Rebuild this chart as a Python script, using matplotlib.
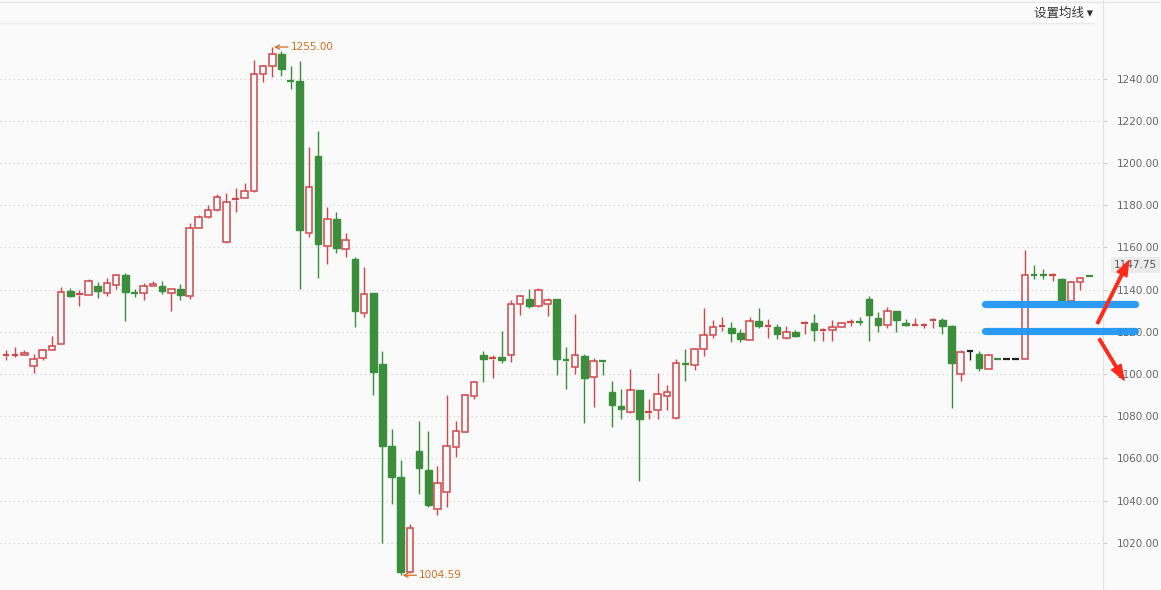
import matplotlib
matplotlib.use("Agg")
import matplotlib.pyplot as plt
from matplotlib.patches import Rectangle, FancyArrowPatch
from matplotlib.lines import Line2D
import matplotlib.transforms as mtransforms

# daily candles (open, high, low, close)
opens = [1108.6, 1108.9, 1109.1, 1103.9, 1107.5, 1111.5, 1114.3, 1139.5, 1137.6, 1137.5,
         1141.7, 1138.4, 1142.2, 1147.1, 1138.6, 1138.4, 1141.7, 1141.9, 1138.4, 1140.5,
         1137.2, 1169.2, 1174.2, 1177.7, 1162.5, 1182.6, 1183.5, 1186.8, 1242.2, 1246.0,
         1251.7, 1239.3, 1238.8, 1167.0, 1203.4, 1160.6, 1173.3, 1159.2, 1154.5, 1129.0,
         1138.4, 1104.9, 1065.8, 1051.0, 1005.9, 1063.5, 1054.6, 1035.8, 1043.9, 1065.5,
         1072.5, 1089.8, 1108.9, 1107.3, 1108.0, 1108.8, 1133.0, 1135.4, 1132.1, 1133.4,
         1135.4, 1106.6, 1103.1, 1108.3, 1098.4, 1106.2, 1091.7, 1084.6, 1081.8, 1092.2,
         1081.7, 1082.9, 1089.8, 1079.1, 1105.1, 1104.1, 1111.9, 1118.6, 1122.4, 1121.9,
         1119.5, 1116.2, 1125.2, 1122.5, 1122.4, 1117.1, 1120.0, 1123.6, 1124.3, 1120.5,
         1121.0, 1122.4, 1124.6, 1125.0, 1135.4, 1126.7, 1123.0, 1129.7, 1124.4, 1122.9,
         1123.0, 1125.2, 1125.6, 1122.9, 1100.0, 1110.8, 1109.4, 1102.6, 1107.4, 1107.0,
         1107.0, 1107.0, 1147.3, 1147.3, 1146.8, 1145.2, 1134.6, 1143.8, 1146.6]
highs = [1111.2, 1113.0, 1111.2, 1109.3, 1112.0, 1118.1, 1141.4, 1140.8, 1139.9, 1145.2,
         1143.6, 1145.5, 1147.2, 1147.9, 1140.3, 1143.2, 1144.3, 1144.3, 1140.5, 1142.8,
         1171.5, 1175.5, 1180.1, 1185.2, 1186.0, 1188.2, 1190.7, 1248.7, 1246.3, 1255.0,
         1252.9, 1246.0, 1248.3, 1207.5, 1215.2, 1179.4, 1177.0, 1166.8, 1155.6, 1150.5,
         1138.6, 1110.7, 1073.8, 1059.1, 1028.8, 1077.7, 1072.9, 1056.2, 1089.9, 1077.7,
         1090.7, 1096.6, 1110.8, 1108.9, 1120.3, 1135.0, 1137.4, 1140.5, 1140.8, 1136.0,
         1135.6, 1112.6, 1128.6, 1109.4, 1107.6, 1106.5, 1096.6, 1092.8, 1102.3, 1092.4,
         1088.1, 1100.7, 1094.6, 1106.9, 1111.7, 1112.1, 1131.1, 1125.4, 1127.1, 1124.8,
         1121.4, 1127.1, 1131.1, 1126.2, 1123.8, 1122.9, 1121.0, 1125.2, 1128.3, 1121.7,
         1125.7, 1124.6, 1126.2, 1127.1, 1137.2, 1129.5, 1131.6, 1129.9, 1126.3, 1126.7,
         1124.3, 1126.5, 1126.5, 1123.1, 1111.3, 1111.5, 1110.8, 1109.7, 1107.4, 1107.0,
         1107.0, 1158.7, 1151.5, 1149.9, 1148.0, 1145.4, 1144.0, 1145.9, 1146.9]
lows = [1106.8, 1108.0, 1108.8, 1100.4, 1106.8, 1111.3, 1114.0, 1136.5, 1132.1, 1137.3,
        1136.1, 1137.0, 1140.1, 1125.0, 1136.4, 1134.9, 1141.5, 1137.8, 1129.7, 1135.3,
        1135.6, 1169.0, 1174.0, 1177.5, 1162.3, 1176.9, 1183.3, 1186.5, 1238.4, 1240.6,
        1241.5, 1235.2, 1140.3, 1165.0, 1145.3, 1152.2, 1157.4, 1155.3, 1122.2, 1126.9,
        1089.9, 1020.0, 1038.2, 1004.59, 1005.5, 1043.1, 1037.0, 1033.0, 1037.1, 1060.7,
        1072.3, 1088.2, 1096.3, 1098.2, 1105.0, 1105.5, 1128.2, 1131.3, 1131.9, 1127.5,
        1099.6, 1093.1, 1100.0, 1076.9, 1084.4, 1099.6, 1075.0, 1078.5, 1081.6, 1049.1,
        1078.5, 1078.5, 1082.9, 1078.9, 1096.5, 1102.0, 1108.4, 1117.0, 1120.6, 1115.4,
        1115.0, 1116.0, 1121.9, 1117.2, 1116.7, 1116.5, 1117.6, 1119.0, 1115.5, 1115.5,
        1115.5, 1122.2, 1122.9, 1123.3, 1115.5, 1120.0, 1121.7, 1120.0, 1122.7, 1122.7,
        1121.9, 1121.7, 1118.9, 1084.0, 1096.5, 1106.7, 1101.4, 1102.4, 1107.2, 1107.0,
        1107.0, 1107.0, 1145.2, 1145.2, 1144.1, 1134.7, 1134.0, 1139.7, 1146.0]
closes = [1109.0, 1109.3, 1110.1, 1107.2, 1111.5, 1113.4, 1138.9, 1136.8, 1138.0, 1144.1,
          1139.4, 1143.2, 1146.9, 1138.7, 1138.2, 1141.7, 1142.8, 1139.2, 1140.3, 1137.3,
          1169.2, 1174.5, 1177.7, 1183.9, 1181.4, 1183.0, 1186.8, 1242.4, 1246.0, 1251.7,
          1244.4, 1238.9, 1168.1, 1188.5, 1161.4, 1173.3, 1159.7, 1163.5, 1129.7, 1138.0,
          1100.9, 1066.0, 1051.3, 1006.3, 1026.8, 1055.2, 1037.7, 1048.1, 1065.8, 1072.9,
          1089.9, 1096.0, 1107.0, 1107.9, 1106.7, 1133.0, 1137.2, 1132.2, 1140.0, 1135.3,
          1107.2, 1106.2, 1108.8, 1098.2, 1106.0, 1105.8, 1085.4, 1083.2, 1092.2, 1078.5,
          1082.1, 1090.3, 1091.3, 1105.0, 1104.7, 1111.9, 1118.6, 1122.4, 1122.9, 1119.3,
          1116.7, 1125.2, 1122.7, 1122.9, 1119.0, 1119.8, 1117.9, 1124.3, 1120.8, 1121.1,
          1122.4, 1124.3, 1125.0, 1124.6, 1128.1, 1123.4, 1129.7, 1125.4, 1123.2, 1123.5,
          1123.4, 1125.6, 1122.9, 1105.0, 1110.3, 1110.8, 1102.9, 1108.8, 1107.2, 1107.0,
          1107.0, 1147.1, 1146.8, 1146.8, 1147.2, 1134.9, 1143.8, 1145.7, 1146.2]

y_ticks = [1020, 1040, 1060, 1080, 1100, 1120, 1140, 1160, 1180, 1200, 1220, 1240]
max_price = 1255.00
min_price = 1004.59
last_price = 1147.75
# levels drawn by hand on the chart
blue_levels = [1133.0, 1120.2]
menu_text = "设置均线 ▾"

up_color = "#d0464a"
down_color = "#3a8e3c"
flat_color = "#222222"
label_color = "#d07020"
bg = "#fafafa"

fig = plt.figure(figsize=(11.61, 5.90), dpi=100, facecolor=bg)
ax = fig.add_axes([0, 0, 1103.3 / 1161, 1])
ax.set_facecolor(bg)

n = len(opens)
w = 0.72
for i in range(n):
    o, h, l, c = opens[i], highs[i], lows[i], closes[i]
    if c > o:
        col = up_color
    elif c < o:
        col = down_color
    else:
        col = flat_color
    top = max(o, c)
    bot = min(o, c)
    if h > top:
        ax.plot([i, i], [top, h], color=col, lw=1.0, solid_capstyle="butt")
    if l < bot:
        ax.plot([i, i], [l, bot], color=col, lw=1.0, solid_capstyle="butt")
    if top - bot < 0.8:
        ax.plot([i - w / 2, i + w / 2], [(o + c) / 2] * 2, color=col, lw=1.6,
                solid_capstyle="butt")
    elif c > o:
        ax.add_patch(Rectangle((i - w / 2, bot), w, top - bot, facecolor=bg,
                               edgecolor=col, lw=1.1))
    else:
        ax.add_patch(Rectangle((i - w / 2, bot), w, top - bot, facecolor=col,
                               edgecolor=col, lw=1.0))

ax.set_xlim(-6 / 9.18, (1103.3 - 6) / 9.18)
ax.set_ylim(997.6, 1277.3)

# grid and right axis
for yv in y_ticks:
    ax.axhline(yv, color="#cccccc", lw=0.8, ls=(0, (1, 3)), zorder=0)
ax.yaxis.tick_right()
ax.set_yticks(y_ticks)
ax.set_yticklabels(["%.2f" % v for v in y_ticks])
ax.tick_params(axis="y", length=3, color="#cccccc", labelcolor="#666666",
               labelsize=7.5, pad=7)
ax.set_xticks([])
for s in ["left", "top", "bottom"]:
    ax.spines[s].set_visible(False)
ax.spines["right"].set_color("#e2e2e2")

# high / low markers
imax = highs.index(max(highs))
imin = lows.index(min(lows))
ax.annotate("%.2f" % max_price, xy=(imax + 0.2, max_price), xytext=(12, 0),
            textcoords="offset points", va="center", ha="left", color=label_color,
            fontsize=7.5, arrowprops=dict(arrowstyle="->", color=label_color, lw=0.9,
                                          shrinkA=0, shrinkB=0))
ax.annotate("%.2f" % min_price, xy=(imin + 0.2, min_price), xytext=(12, 0),
            textcoords="offset points", va="center", ha="left", color=label_color,
            fontsize=7.5, arrowprops=dict(arrowstyle="->", color=label_color, lw=0.9,
                                          shrinkA=0, shrinkB=0))

# last price tag on the axis
trans = mtransforms.blended_transform_factory(ax.transAxes, ax.transData)
ax.text(1.0095, last_price + 3.9, "%.2f" % last_price, transform=trans, ha="left",
        va="center", fontsize=7.5, color="#555555", clip_on=False,
        bbox=dict(boxstyle="square,pad=0.25", facecolor="#ebebeb", edgecolor="none"))

# hand drawn blue lines and red arrows
for yv in blue_levels:
    ax.plot([106.6, 123.0], [yv, yv], color="#2196f3", lw=5.2, solid_capstyle="round",
            clip_on=False, zorder=5, alpha=0.95)
arr_up = FancyArrowPatch((118.9, 1124.0), (122.3, 1153.7),
                         arrowstyle="simple,head_width=8,head_length=11,tail_width=1.8",
                         color="#ff2a1a", shrinkA=0, shrinkB=0, clip_on=False, zorder=6)
arr_dn = FancyArrowPatch((119.1, 1116.6), (121.8, 1097.1),
                         arrowstyle="simple,head_width=8,head_length=11,tail_width=1.8",
                         color="#ff2a1a", shrinkA=0, shrinkB=0, clip_on=False, zorder=6)
ax.add_patch(arr_up)
ax.add_patch(arr_dn)

# header strip
fig.add_artist(Line2D([0, 1], [1 - 2 / 590] * 2, color="#e6e6e6", lw=1))
fig.add_artist(Line2D([0, 1093 / 1161], [1 - 23 / 590] * 2, color="#ececec", lw=1))
fig.text(1093 / 1161, 1 - 13 / 590, menu_text, ha="right", va="center", fontsize=9,
         color="#333333", family=["Noto Sans CJK SC", "DejaVu Sans"],
         bbox=dict(boxstyle="square,pad=0.2", facecolor="white", edgecolor="none"))

fig.savefig("out.png", dpi=100, facecolor=bg)
